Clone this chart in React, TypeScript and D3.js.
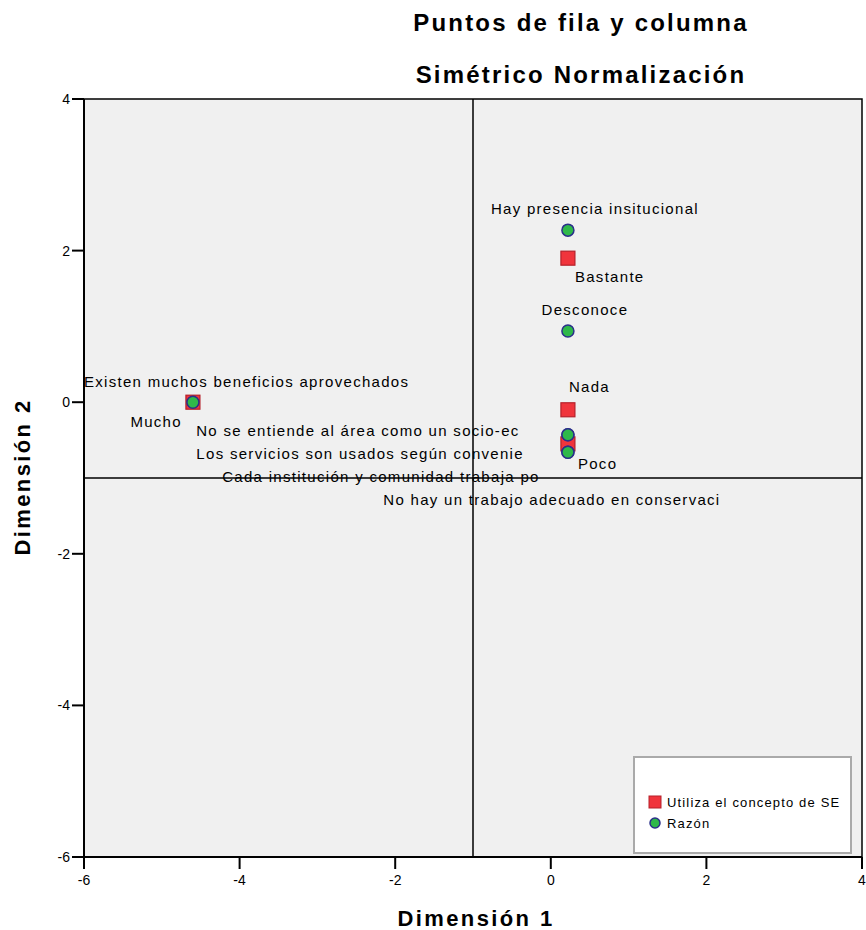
import React from "react";
import * as d3 from "d3";

const rowLabels = ["Mucho", "Bastante", "Nada", "Poco"];
const rowX = [-4.6, 0.22, 0.22, 0.22];
const rowY = [0.0, 1.9, -0.1, -0.55];

const colLabels = [
  "Existen muchos beneficios aprovechados",
  "Hay presencia insitucional",
  "Desconoce",
  "No se entiende al área como un socio-ec",
  "Los servicios son usados según convenie",
  "Cada institución y comunidad trabaja po",
  "No hay un trabajo adecuado en conservaci",
];
const colX = [-4.6, 0.22, 0.22, 0.22, 0.22, 0.22, 0.22];
const colY = [0.0, 2.27, 0.94, -0.43, -0.66, -0.66, -0.43];

const xTicks = [-6, -4, -2, 0, 2, 4];
const yTicks = [4, 2, 0, -2, -4, -6];

// label placement offsets in pixels (anchor, dx, dy)
const rowLabelPos: [string, number, number][] = [
  ["end", -11, 25],
  ["start", 7, 24],
  ["start", 1, -18],
  ["start", 10, 25],
];
const colLabelPos: [string, number, number][] = [
  ["start", -109, -15],
  ["middle", 27, -16],
  ["middle", 17, -16],
  ["middle", -210, 1],
  ["end", -44, 7],
  ["middle", -187, 30],
  ["middle", -16, 70],
];

const W = 866;
const H = 930;
const left = 84, right = 862, top = 99, bottom = 857;

export default function App() {
  const x = d3.scaleLinear().domain([-6, 4]).range([left, right]);
  const y = d3.scaleLinear().domain([-6, 4]).range([bottom, top]);
  const font = "'Liberation Sans', Arial, sans-serif";
  return (
    <svg width={W} height={H} style={{ position: "absolute", left: 0, top: 0 }} fontFamily={font}>
      <rect x={0} y={0} width={W} height={H} fill="#fff" />
      <text x={581} y={31} textAnchor="middle" fontSize={24} fontWeight="bold" letterSpacing={2.2}>Puntos de fila y columna</text>
      <text x={581} y={83} textAnchor="middle" fontSize={24} fontWeight="bold" letterSpacing={2.2}>Simétrico Normalización</text>
      <rect x={left} y={top} width={right - left} height={bottom - top} fill="#f0f0f0" stroke="#000" strokeWidth={1.5} />
      {/* reference lines */}
      <line x1={x(-1)} x2={x(-1)} y1={top} y2={bottom} stroke="#000" strokeWidth={1.5} />
      <line x1={left} x2={right} y1={y(-1)} y2={y(-1)} stroke="#000" strokeWidth={1.5} />
      {/* axes */}
      <line x1={left} x2={right} y1={bottom} y2={bottom} stroke="#000" strokeWidth={2} />
      <line x1={left} x2={left} y1={top} y2={bottom} stroke="#000" strokeWidth={2} />
      {xTicks.map((t) => (
        <g key={"xt" + t}>
          <line x1={x(t)} x2={x(t)} y1={bottom} y2={bottom + 12} stroke="#000" strokeWidth={2} />
          <text x={x(t)} y={bottom + 28} textAnchor="middle" fontSize={14}>{t}</text>
        </g>
      ))}
      {yTicks.map((t) => (
        <g key={"yt" + t}>
          <line x1={left - 12} x2={left} y1={y(t)} y2={y(t)} stroke="#000" strokeWidth={2} />
          <text x={left - 14} y={y(t) + 5} textAnchor="end" fontSize={14}>{t}</text>
        </g>
      ))}
      <text x={476} y={926} textAnchor="middle" fontSize={22} fontWeight="bold" letterSpacing={2.4}>Dimensión 1</text>
      <text transform={`translate(30,477) rotate(-90)`} textAnchor="middle" fontSize={22} fontWeight="bold" letterSpacing={2.4}>Dimensión 2</text>
      {/* row points (squares) */}
      {rowLabels.map((l, i) => (
        <rect key={"r" + i} x={x(rowX[i]) - 7} y={y(rowY[i]) - 7} width={14} height={14} fill="#f0343c" stroke="#b5202a" strokeWidth={1.2} />
      ))}
      {colLabels.map((l, i) => (
        <circle key={"c" + i} cx={x(colX[i])} cy={y(colY[i])} r={6} fill="#2fb84a" stroke="#2a2f8a" strokeWidth={1.5} />
      ))}
      {rowLabels.map((l, i) => (
        <text key={"rl" + i} x={x(rowX[i]) + rowLabelPos[i][1]} y={y(rowY[i]) + rowLabelPos[i][2]} textAnchor={rowLabelPos[i][0] as any} fontSize={15} letterSpacing={1.3}>{l}</text>
      ))}
      {colLabels.map((l, i) => (
        <text key={"cl" + i} x={x(colX[i]) + colLabelPos[i][1]} y={y(colY[i]) + colLabelPos[i][2]} textAnchor={colLabelPos[i][0] as any} fontSize={15} letterSpacing={1.3}>{l}</text>
      ))}
      {/* legend */}
      <rect x={634} y={757} width={217} height={96} fill="#fff" stroke="#aaa" strokeWidth={2} />
      <rect x={649} y={796} width={12} height={12} fill="#f0343c" stroke="#b5202a" strokeWidth={1} />
      <text x={667} y={807} fontSize={13} letterSpacing={1.15}>Utiliza el concepto de SE</text>
      <circle cx={655} cy={823} r={5} fill="#2fb84a" stroke="#2a2f8a" strokeWidth={1.5} />
      <text x={667} y={828} fontSize={13} letterSpacing={1.15}>Razón</text>
    </svg>
  );
}
